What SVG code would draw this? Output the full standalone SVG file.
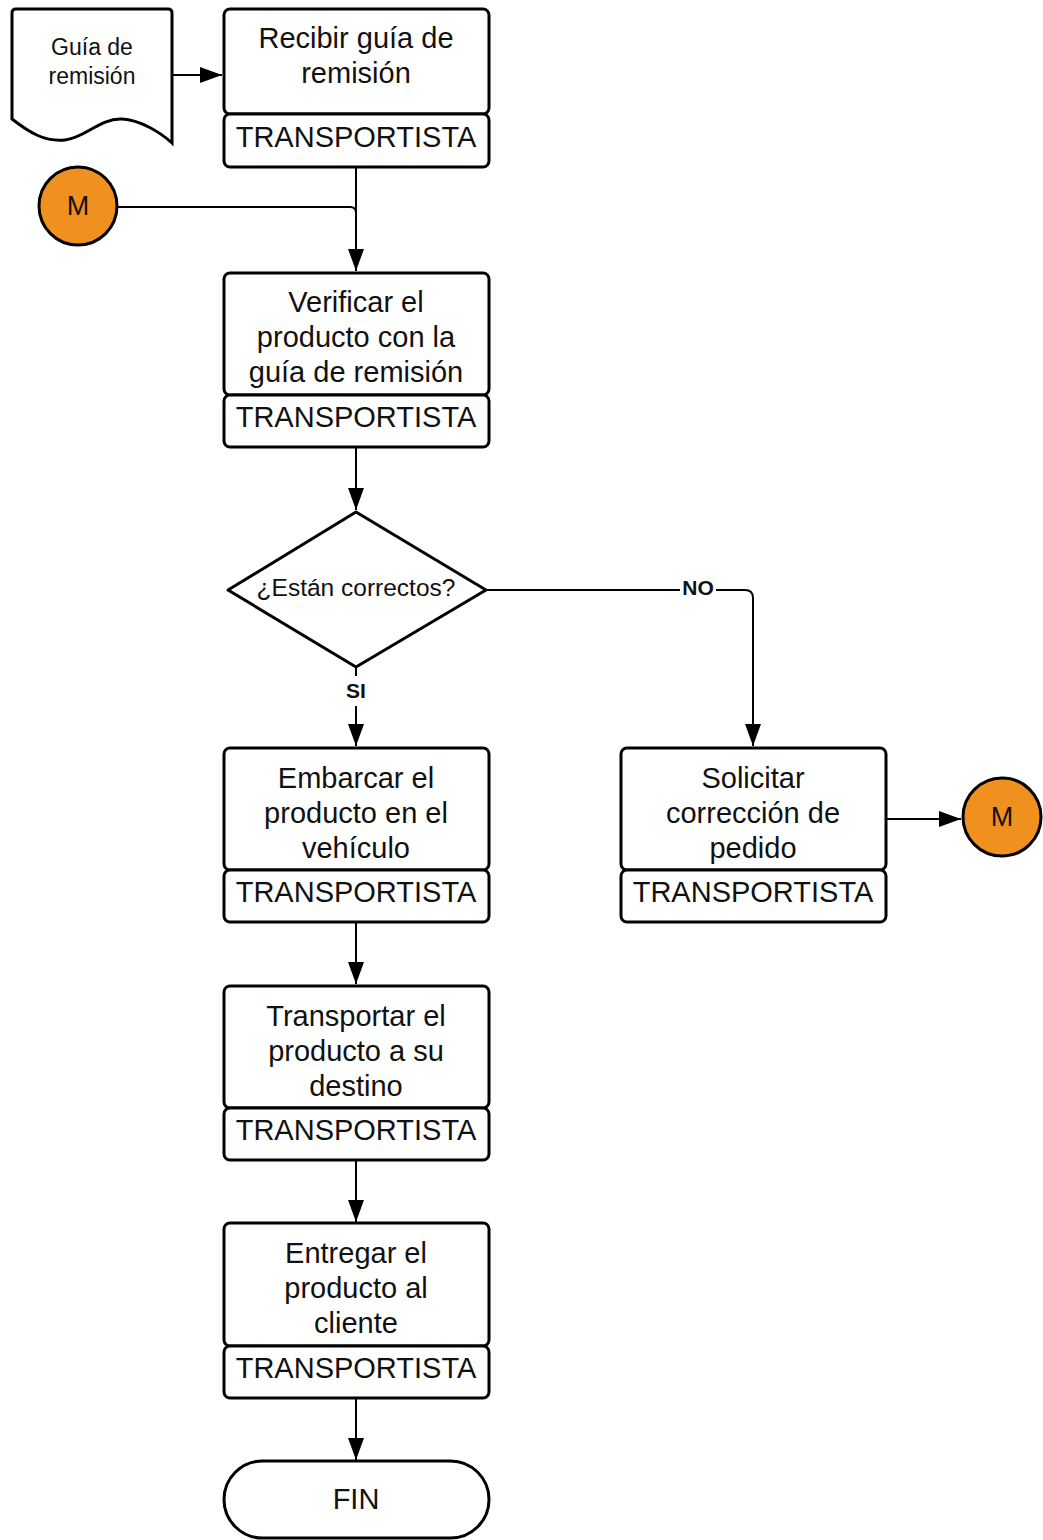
<svg xmlns="http://www.w3.org/2000/svg" width="1043" height="1540" viewBox="0 0 1043 1540">
  <defs>
    <marker id="arrow" markerUnits="userSpaceOnUse" markerWidth="22" markerHeight="16" refX="22" refY="8" orient="auto">
      <path d="M0,0 L22,8 L0,16 Z" fill="#000"/>
    </marker>
    <style>
      .box { fill: #fff; stroke: #000; stroke-width: 3; }
      .conn { fill: none; stroke: #000; stroke-width: 2; }
      .t { font-family: "Liberation Sans", Arial, sans-serif; font-size: 29px; fill: #111; text-anchor: middle; }
      .doc { font-family: "Liberation Sans", Arial, sans-serif; font-size: 23px; fill: #111; text-anchor: middle; }
      .dec { font-family: "Liberation Sans", Arial, sans-serif; font-size: 24.5px; fill: #111; text-anchor: middle; }
      .lbl { font-family: "Liberation Sans", Arial, sans-serif; font-size: 21px; font-weight: bold; fill: #111; text-anchor: middle; }
      .conn-node { fill: #F0901E; stroke: #000; stroke-width: 3; }
      .m { font-family: "Liberation Sans", Arial, sans-serif; font-size: 27px; fill: #111; text-anchor: middle; }
    </style>
  </defs>

  <!-- connectors -->
  <g id="connectors">
    <line class="conn" x1="172" y1="75" x2="222" y2="75" marker-end="url(#arrow)"/>
    <line class="conn" x1="356" y1="167" x2="356" y2="271" marker-end="url(#arrow)"/>
    <path class="conn" d="M118,207 H350 Q356,207 356,213"/>
    <line class="conn" x1="356" y1="447" x2="356" y2="510" marker-end="url(#arrow)"/>
    <line class="conn" x1="356" y1="666" x2="356" y2="746" marker-end="url(#arrow)"/>
    <rect x="340" y="676" width="32" height="30" fill="#fff"/>
    <text class="lbl" x="356" y="698">SI</text>
    <path class="conn" d="M486,590 H745 Q753,590 753,598 V746" marker-end="url(#arrow)"/>
    <rect x="680" y="576" width="36" height="26" fill="#fff"/>
    <text class="lbl" x="698" y="595">NO</text>
    <line class="conn" x1="886" y1="819" x2="961" y2="819" marker-end="url(#arrow)"/>
    <line class="conn" x1="356" y1="922" x2="356" y2="984" marker-end="url(#arrow)"/>
    <line class="conn" x1="356" y1="1160" x2="356" y2="1222" marker-end="url(#arrow)"/>
    <line class="conn" x1="356" y1="1398" x2="356" y2="1460" marker-end="url(#arrow)"/>
  </g>

  <!-- document: Guía de remisión -->
  <g id="doc-guia">
    <path class="box" d="M16,9 H168 Q172,9 172,13 V143 C160,132 140,120 122,119 C100,118 85,138 65,140 C45,142 30,133 12,119 V13 Q12,9 16,9 Z"/>
    <text class="doc" x="92" y="55">Guía de</text>
    <text class="doc" x="92" y="84">remisión</text>
  </g>

  <!-- process: Recibir guía de remisión -->
  <g id="recibir">
    <rect class="box" x="224" y="9" width="265" height="105" rx="6"/>
    <rect class="box" x="224" y="114" width="265" height="53" rx="6"/>
    <text class="t" x="356" y="48">Recibir guía de</text>
    <text class="t" x="356" y="83">remisión</text>
    <text class="t" x="356" y="147">TRANSPORTISTA</text>
  </g>

  <!-- off-page connector M (incoming) -->
  <g id="m-in">
    <circle class="conn-node" cx="78" cy="206" r="39"/>
    <text class="m" x="78" y="215">M</text>
  </g>

  <!-- process: Verificar -->
  <g id="verificar">
    <rect class="box" x="224" y="273" width="265" height="122" rx="6"/>
    <rect class="box" x="224" y="395" width="265" height="52" rx="6"/>
    <text class="t" x="356" y="312">Verificar el</text>
    <text class="t" x="356" y="347">producto con la</text>
    <text class="t" x="356" y="382">guía de remisión</text>
    <text class="t" x="356" y="427">TRANSPORTISTA</text>
  </g>

  <!-- decision -->
  <g id="decision">
    <path class="box" d="M356,512 L486,590 L356,667 L228,590 Z" stroke-linejoin="round"/>
    <text class="dec" x="356" y="596">¿Están correctos?</text>
  </g>

  <!-- process: Embarcar -->
  <g id="embarcar">
    <rect class="box" x="224" y="748" width="265" height="122" rx="6"/>
    <rect class="box" x="224" y="870" width="265" height="52" rx="6"/>
    <text class="t" x="356" y="788">Embarcar el</text>
    <text class="t" x="356" y="823">producto en el</text>
    <text class="t" x="356" y="858">vehículo</text>
    <text class="t" x="356" y="902">TRANSPORTISTA</text>
  </g>

  <!-- process: Solicitar corrección -->
  <g id="solicitar">
    <rect class="box" x="621" y="748" width="265" height="122" rx="6"/>
    <rect class="box" x="621" y="870" width="265" height="52" rx="6"/>
    <text class="t" x="753" y="788">Solicitar</text>
    <text class="t" x="753" y="823">corrección de</text>
    <text class="t" x="753" y="858">pedido</text>
    <text class="t" x="753" y="902">TRANSPORTISTA</text>
  </g>

  <!-- off-page connector M (outgoing) -->
  <g id="m-out">
    <circle class="conn-node" cx="1002" cy="817" r="39"/>
    <text class="m" x="1002" y="826">M</text>
  </g>

  <!-- process: Transportar -->
  <g id="transportar">
    <rect class="box" x="224" y="986" width="265" height="122" rx="6"/>
    <rect class="box" x="224" y="1108" width="265" height="52" rx="6"/>
    <text class="t" x="356" y="1026">Transportar el</text>
    <text class="t" x="356" y="1061">producto a su</text>
    <text class="t" x="356" y="1096">destino</text>
    <text class="t" x="356" y="1140">TRANSPORTISTA</text>
  </g>

  <!-- process: Entregar -->
  <g id="entregar">
    <rect class="box" x="224" y="1223" width="265" height="123" rx="6"/>
    <rect class="box" x="224" y="1346" width="265" height="52" rx="6"/>
    <text class="t" x="356" y="1263">Entregar el</text>
    <text class="t" x="356" y="1298">producto al</text>
    <text class="t" x="356" y="1333">cliente</text>
    <text class="t" x="356" y="1378">TRANSPORTISTA</text>
  </g>

  <!-- terminator -->
  <g id="fin">
    <rect class="box" x="224" y="1461" width="265" height="77" rx="38.5"/>
    <text class="t" x="356" y="1509">FIN</text>
  </g>
</svg>
